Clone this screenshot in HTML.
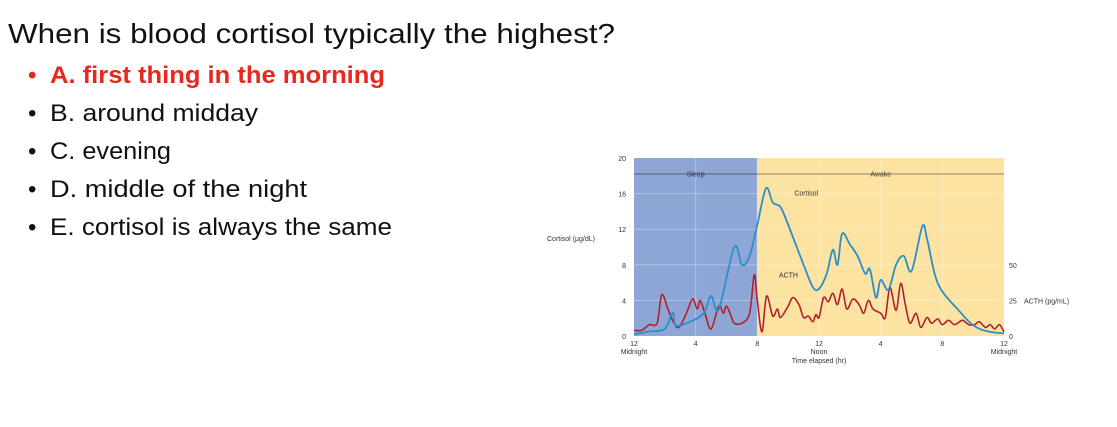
<!DOCTYPE html>
<html><head><meta charset="utf-8"><style>
html,body{margin:0;padding:0;background:#fff;width:1117px;height:427px;overflow:hidden}
svg{display:block}
text{font-family:"Liberation Sans",sans-serif}
</style></head><body>
<svg id="s" width="1117" height="427">
<text x="8" y="43" font-size="28" fill="#111" textLength="607" lengthAdjust="spacingAndGlyphs">When is blood cortisol typically the highest?</text>
<g font-size="24">
<text x="28" y="83" fill="#e8271d" font-weight="bold">•</text>
<text x="50" y="83" fill="#e8271d" font-weight="bold" textLength="335" lengthAdjust="spacingAndGlyphs">A. first thing in the morning</text>
<text x="28" y="121" fill="#111">•</text>
<text x="50" y="121" fill="#111" textLength="208" lengthAdjust="spacingAndGlyphs">B. around midday</text>
<text x="28" y="159" fill="#111">•</text>
<text x="50" y="159" fill="#111" textLength="121" lengthAdjust="spacingAndGlyphs">C. evening</text>
<text x="28" y="197" fill="#111">•</text>
<text x="50" y="197" fill="#111" textLength="257" lengthAdjust="spacingAndGlyphs">D. middle of the night</text>
<text x="28" y="235" fill="#111">•</text>
<text x="50" y="235" fill="#111" textLength="342" lengthAdjust="spacingAndGlyphs">E. cortisol is always the same</text>
</g>
<g id="chart"></g>
</svg>
<script>
const cortHours=[0,1,2,2.5,2.7,3.5,4.5,5,5.5,6.5,7,7.5,8,8.56,9,9.5,10,11,11.6,12,12.5,12.9,13.2,13.5,14,14.5,15,15.3,15.7,16,16.5,17,17.5,18,18.7,19,19.5,20,21,22,23,24];
const cortValues=[0.2,0.5,0.8,2.6,1.2,1.5,2.5,4.5,3,10,8,9,12.5,16.6,15,14.5,12.5,8,5.5,5.3,7,9.7,8,11.5,10.3,9,7,7.5,4.3,6.3,5.2,8,9,7.3,12.3,11,7,5,3,1.2,0.5,0.3];
const acthHours=[0,0.5,1,1.5,1.8,2.2,2.5,2.9,3.4,3.8,4.1,4.3,4.6,5,5.5,5.8,6,6.3,6.5,7,7.5,7.8,8,8.3,8.6,9,9.3,9.5,10,10.3,10.7,11,11.3,11.6,11.8,12,12.3,12.6,12.9,13.2,13.5,13.8,14.2,14.6,14.9,15.2,15.5,16,16.3,16.6,17,17.3,17.6,17.9,18.3,18.6,19,19.3,19.7,20,20.4,20.8,21.3,21.7,22.1,22.4,22.8,23.1,23.4,23.7,24];
const acthValues=[4,4,8,9,29,19,11,6,16,26,19,25,16,5,21,16,21,14,9,9,16,43,25,3,28,14,19,13,21,27,22,13,14,10,15,13,27,24,30,22,33,19,26,22,16,25,19,16,13,34,18,37,22,9,16,6,13,9,12,8,11,8,11,8,8,10,6,8,5,8,3];
const leftTicks=[0,4,8,12,16,20];
const rightTicks=[0,25,50];
const xTicks=[0,4,8,12,16,20,24];
const xTickLabels=["12","4","8","12","4","8","12"];
const xSubLabels=["Midnight","","","Noon","","","Midnight"];

const L=634,R=1004,T=158,B=336;
const xs=h=>L+(R-L)*h/24;
const yc=v=>B-(B-T)*v/20;
const ya=v=>yc(v*8/50);
const g=document.getElementById('chart');
const NS='http://www.w3.org/2000/svg';
function mk(t,a,p){const e=document.createElementNS(NS,t);for(const k in a)e.setAttribute(k,a[k]);(p||g).appendChild(e);return e;}
function smooth(pts){let d='M'+pts[0][0]+','+pts[0][1];for(let i=0;i<pts.length-1;i++){const p0=pts[Math.max(0,i-1)],p1=pts[i],p2=pts[i+1],p3=pts[Math.min(pts.length-1,i+2)];const c1=[p1[0]+(p2[0]-p0[0])/6,p1[1]+(p2[1]-p0[1])/6],c2=[p2[0]-(p3[0]-p1[0])/6,p2[1]-(p3[1]-p1[1])/6];d+='C'+c1+' '+c2+' '+p2;}return d;}

let e=mk('rect',{x:L,y:T,width:xs(8)-L,height:B-T,fill:'#8ea6d6'});

e=mk('rect',{x:xs(8),y:T,width:R-xs(8),height:B-T,fill:'#fde3a2'});

leftTicks.forEach(v=>{if(v>0&&v<20){const l=mk('line',{x1:L,x2:R,y1:yc(v),y2:yc(v),stroke:'#fff','stroke-opacity':0.3,'stroke-width':1});}
 const t=mk('text',{x:L-8,y:yc(v)+3,'font-size':7,'text-anchor':'end',fill:'#333'});t.textContent=v;});
xTicks.forEach((h,i)=>{if(h>0&&h<24){const l=mk('line',{x1:xs(h),x2:xs(h),y1:T,y2:B,stroke:'#fff','stroke-opacity':0.3});}
 const t=mk('text',{x:xs(h),y:B+10,'font-size':7,'text-anchor':'middle',fill:'#333'});t.textContent=xTickLabels[i];
 if(xSubLabels[i]){const s=mk('text',{x:xs(h),y:B+18,'font-size':7,'text-anchor':'middle',fill:'#333'});s.textContent=xSubLabels[i];}});
rightTicks.forEach(v=>{const t=mk('text',{x:R+5,y:ya(v)+3,'font-size':7,fill:'#333'});t.textContent=v;});
e=mk('text',{x:R+20,y:ya(25)+3,'font-size':7,fill:'#333'});e.textContent='ACTH (pg/mL)';
e=mk('text',{x:547,y:241,'font-size':7,fill:'#333'});e.textContent='Cortisol (µg/dL)';
e=mk('text',{x:xs(12),y:B+27,'font-size':7,'text-anchor':'middle',fill:'#333'});e.textContent='Time elapsed (hr)';
const ay=T+16;
e=mk('line',{x1:L,x2:xs(8),y1:ay,y2:ay,stroke:'#445',"stroke-width":0.8});
e=mk('line',{x1:xs(8),x2:R,y1:ay,y2:ay,stroke:'#665',"stroke-width":0.8});
e=mk('text',{x:xs(4),y:ay+2.5,'font-size':7,'text-anchor':'middle',fill:'#334'});e.textContent='Sleep';
e=mk('text',{x:xs(16),y:ay+2.5,'font-size':7,'text-anchor':'middle',fill:'#443'});e.textContent='Awake';
e=mk('path',{d:smooth(acthHours.map((h,i)=>[xs(h),ya(acthValues[i])])),fill:'none',stroke:'#b3202c','stroke-width':1.6});

e=mk('path',{d:smooth(cortHours.map((h,i)=>[xs(h),yc(cortValues[i])])),fill:'none',stroke:'#2a8fc9','stroke-width':1.8});

e=mk('text',{x:xs(10.4),y:yc(16)+2,'font-size':7,fill:'#333'});e.textContent='Cortisol';
e=mk('text',{x:xs(9.4),y:yc(6.8)+2,'font-size':7,fill:'#333'});e.textContent='ACTH';
</script>
</body></html>
